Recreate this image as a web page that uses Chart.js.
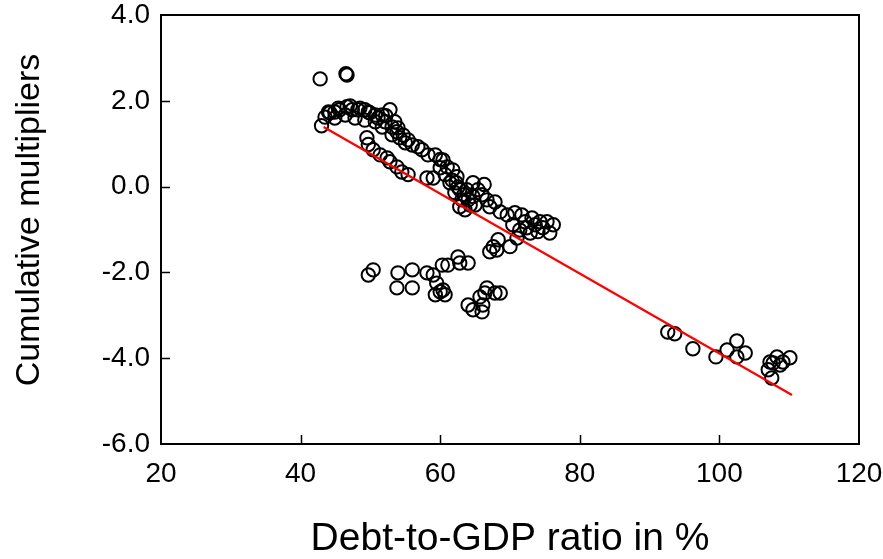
<!DOCTYPE html>
<html>
<head>
<meta charset="utf-8">
<script src="https://cdn.jsdelivr.net/npm/chart.js@4.4.0/dist/chart.umd.min.js"></script>
<style>
  html, body { margin: 0; padding: 0; background: #fff; }
  #wrap { width: 883px; height: 559px; }
</style>
</head>
<body>
<div id="wrap"><canvas id="c" width="883" height="559"></canvas></div>
<script>
// Debt-to-GDP ratio (%) for each observation
const debtRatio = [
  43.0, 43.5, 44.2, 44.9, 45.6, 46.65, 47.4, 48.2, 49.2, 49.9, 50.7, 51.7, 52.8, 52.1, 53.1, 53.8, 54.2, 55.0, 56.0, 56.8, 57.4, 58.25, 59.3, 60.0,
  44.9, 46.4, 47.8, 49.2, 50.7, 51.7, 53.1,
  44.0, 45.4, 47.1, 48.5, 49.7, 51.1, 52.2, 53.5, 53.95, 54.7, 55.4,
  42.8, 46.5, 46.65,
  49.5, 49.7, 50.4, 51.4, 52.4, 52.8, 53.8, 54.5, 55.4,
  60.4, 61.0, 61.8, 62.4, 61.4, 62.1, 62.8, 63.55, 64.7, 63.8, 64.7, 66.0, 66.7, 67.85, 67.1, 68.6, 69.6, 70.7, 71.7, 72.15, 73.15, 74.3, 75.3, 76.2, 75.7, 74.0, 72.9, 71.4, 70.4, 68.3, 67.6,
  61.7, 62.55, 63.1, 64.3, 65.4, 66.3, 58.1, 59.0,
  62.3, 62.8, 63.4, 64.0, 65.0, 60.7, 60.0, 73.6, 74.7, 72.4,
  49.7, 50.4, 53.95, 56.0, 53.8, 56.0, 58.1, 59.0, 59.5, 59.3, 60.4, 60.7, 60.3, 61.1, 62.55, 62.8, 64.0, 67.1, 68.1, 70.0,
  64.0, 64.7, 66.0, 66.1, 66.4, 66.7, 67.85, 68.6, 65.7, 60.0, 71.0,
  92.6, 93.6, 96.2, 99.5, 101.1, 102.5, 102.5, 103.7, 107.25, 108.25, 110.1, 107.0, 107.5, 108.7, 109.1, 107.7
];
// Cumulative multipliers for each observation
const multipliers = [
  1.42, 1.62, 1.72, 1.74, 1.79, 1.86, 1.79, 1.79, 1.79, 1.72, 1.67, 1.67, 1.79, 1.51, 1.39, 1.28, 1.14, 1.02, 0.97, 0.93, 0.86, 0.74, 0.74, 0.63,
  1.60, 1.67, 1.60, 1.55, 1.51, 1.39, 1.21,
  1.74, 1.83, 1.88, 1.83, 1.74, 1.60, 1.65, 1.51, 1.37, 1.20, 1.09,
  2.51, 2.63, 2.60,
  1.14, 0.98, 0.86, 0.74, 0.67, 0.58, 0.46, 0.34, 0.28,
  0.62, 0.46, 0.39, 0.23, 0.09, -0.14, -0.47, -0.54, 0.09, -0.07, -0.23, -0.19, -0.31, -0.36, -0.47, -0.59, -0.66, -0.61, -0.66, -0.82, -0.73, -0.82, -0.82, -0.89, -1.08, -1.05, -1.08, -1.01, -0.89, -1.24, -1.40,
  0.15, -0.01, -0.31, -0.43, -0.07, 0.05, 0.20, 0.20,
  0.09, -0.07, -0.19, -0.31, -0.43, 0.28, 0.44, -0.89, -0.96, -0.96,
  -2.06, -1.94, -2.01, -1.94, -2.36, -2.36, -2.01, -2.06, -2.25, -2.52, -2.41, -2.52, -1.83, -1.83, -1.64, -1.78, -1.78, -1.52, -1.48, -1.40,
  -2.76, -2.87, -2.92, -2.76, -2.48, -2.36, -2.48, -2.48, -2.57, -2.45, -1.20,
  -3.39, -3.43, -3.78, -3.97, -3.81, -3.60, -3.97, -3.88, -4.09, -3.97, -3.99, -4.27, -4.46, -4.16, -4.09, -4.11
];
// Linear fit: multiplier = fitIntercept + fitSlope * debt ratio, drawn over fitRange
const fitIntercept = 5.42;
const fitSlope = -0.0931;
const fitRange = [43.3, 110.4];
// Axis tick settings
const xTicks = [20, 40, 60, 80, 100, 120];
const yTicks = [4, 2, 0, -2, -4, -6];
const xTitle = "Debt-to-GDP ratio in %";
const yTitle = "Cumulative multipliers";

const scatterData = debtRatio.map((x, i) => ({ x: x, y: multipliers[i] }));
const fitData = fitRange.map(x => ({ x: x, y: fitIntercept + fitSlope * x }));

const FONT = "'Liberation Sans', Arial, sans-serif";

const frame = {
  id: 'frame',
  afterDraw(chart) {
    const { ctx, chartArea: a, scales } = chart;
    ctx.save();
    ctx.strokeStyle = '#000';
    ctx.lineWidth = 2;
    ctx.strokeRect(a.left, a.top, a.right - a.left, a.bottom - a.top);
    ctx.lineWidth = 1.5;
    const tl = 9;
    ctx.beginPath();
    xTicks.slice(1, -1).forEach(v => {
      const px = Math.round(scales.x.getPixelForValue(v)) + 0.5;
      ctx.moveTo(px, a.bottom);
      ctx.lineTo(px, a.bottom - tl);
    });
    yTicks.slice(1, -1).forEach(v => {
      const py = Math.round(scales.y.getPixelForValue(v)) + 0.5;
      ctx.moveTo(a.left, py);
      ctx.lineTo(a.left + tl, py);
    });
    ctx.stroke();
    ctx.restore();
  }
};

function noPad(s) { s.paddingTop = 0; s.paddingBottom = 0; s.paddingLeft = 0; s.paddingRight = 0; }

new Chart(document.getElementById('c'), {
  type: 'scatter',
  data: {
    datasets: [
      {
        data: fitData,
        type: 'line',
        borderColor: '#ff0000',
        borderWidth: 2.2,
        pointRadius: 0,
        fill: false,
        order: 0
      },
      {
        data: scatterData,
        pointStyle: 'circle',
        pointRadius: 6.7,
        pointBorderWidth: 2,
        pointBorderColor: '#000',
        pointBackgroundColor: 'rgba(0,0,0,0)',
        order: 1
      }
    ]
  },
  options: {
    responsive: false,
    animation: false,
    devicePixelRatio: 1,
    layout: { padding: { left: 0, top: 15, right: 24, bottom: 0 } },
    plugins: { legend: { display: false }, tooltip: { enabled: false } },
    scales: {
      x: {
        type: 'linear',
        min: 20, max: 120,
        afterBuildTicks: s => { s.ticks = xTicks.map(v => ({ value: v })); },
        afterFit: s => { s.height = 115; noPad(s); },
        grid: { display: false },
        border: { display: false },
        ticks: { color: '#000', font: { family: FONT, size: 28 }, padding: 5, maxRotation: 0, callback: v => String(v) },
        title: { display: true, text: xTitle, color: '#000', font: { family: FONT, size: 39, lineHeight: 1 }, padding: { top: 0, bottom: 0 } }
      },
      y: {
        type: 'linear',
        min: -6, max: 4,
        afterBuildTicks: s => { s.ticks = yTicks.map(v => ({ value: v })); },
        afterFit: s => { s.width = 161; noPad(s); },
        grid: { display: false },
        border: { display: false },
        ticks: { color: '#000', font: { family: FONT, size: 28 }, padding: 3, callback: v => Number(v).toFixed(1) },
        title: { display: true, text: "  " + yTitle, color: '#000', font: { family: FONT, size: 34, lineHeight: 1 }, padding: { top: 13, bottom: 0 } }
      }
    }
  },
  plugins: [frame]
});
</script>
</body>
</html>
